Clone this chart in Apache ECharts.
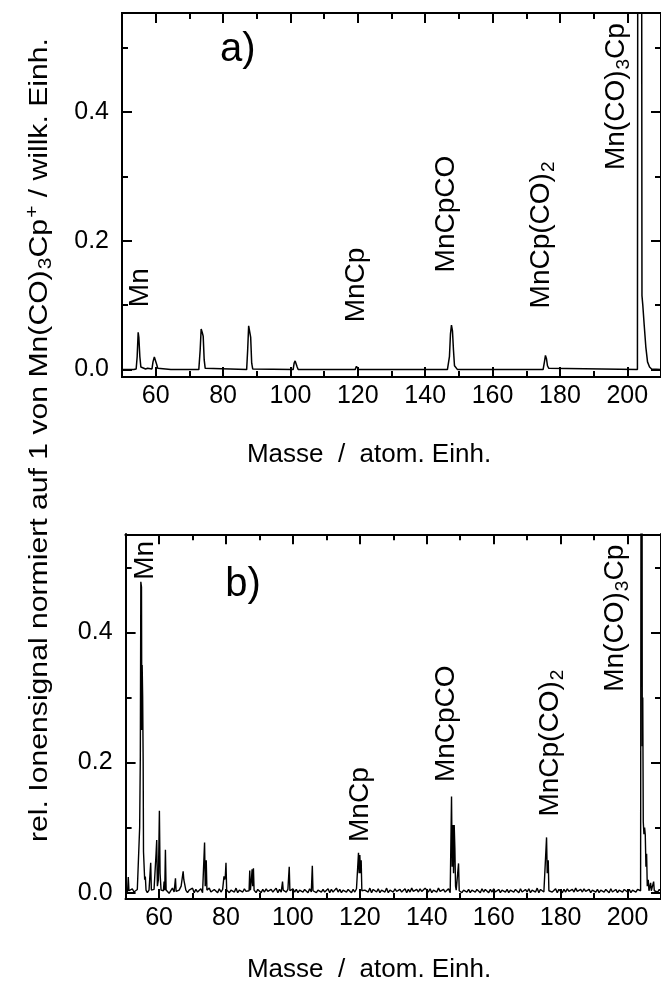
<!DOCTYPE html>
<html>
<head>
<meta charset="utf-8">
<script src="https://cdn.jsdelivr.net/npm/echarts@6/dist/echarts.min.js"></script>
<style>html,body{margin:0;padding:0;background:#fff;}#c{width:661px;height:989px;}</style>
</head>
<body>
<div id="c"></div>
<script>
// ---------- DATA ----------
// Panel a) : mass (atomic units) and normalised signal
const massA = [50,53.5,54.2,54.5,54.8,55.0,55.3,55.6,56.0,57.0,57.3,57.6,58.0,58.9,59.2,59.6,59.9,60.3,60.6,61.0,64.5,65.0,65.5,72.8,73.2,73.5,73.8,74.1,74.4,74.7,87.0,87.3,87.6,87.9,88.2,88.5,88.8,100.8,101.1,101.4,101.7,102.0,102.3,119.2,119.6,120.0,120.3,146.6,147.2,147.5,147.8,148.1,148.4,148.7,149.2,149.6,175.0,175.4,175.7,176.0,176.3,176.7,177.2,203.0,203.1,203.15,204.2,204.35,204.6,205.0,205.5,206.0,206.6,207.2,210];
const signalA = [0,0,0.001,0.02,0.058,0.05,0.02,0.004,0.001,0.001,0.003,0.002,0.001,0.001,0.012,0.0196,0.018,0.008,0.002,0.001,0,0.003,0,0,0.03,0.063,0.058,0.052,0.015,0.002,0,0.03,0.068,0.066,0.05,0.01,0.001,0,0.01,0.0135,0.013,0.004,0,0,0.005,0.0045,0,0,0.02,0.055,0.069,0.06,0.03,0.006,0.003,0,0,0.012,0.022,0.017,0.006,0.002,0,0,0.002,1.0,1.0,0.115,0.1,0.07,0.035,0.012,0.004,0.001,0];

// Panel b) : noisy baseline (every 0.5 mass units starting at 50) and peak groups
const noiseStartB = 50, noiseStepB = 0.5;
const noiseB = [
0.002,0.005,0.000,0.004,0.006,0.001,-0.001,0.005,0.003,0.000,0.005,0.001,0.006,0.000,0.004,0.007,0.001,0.005,0.000,0.004,
0.005,0.001,0.006,0.000,0.004,0.005,-0.001,0.003,0.007,0.001,0.005,0.000,0.004,0.006,0.001,0.005,0.007,0.000,0.004,0.001,
0.007,0.000,0.005,0.001,0.004,0.006,0.000,0.005,0.001,0.004,0.007,0.001,-0.001,0.005,0.003,0.000,0.006,0.001,0.005,0.002,
0.001,0.006,0.000,0.004,0.005,0.001,0.007,0.000,0.004,0.005,0.001,0.006,0.002,0.000,0.005,0.001,0.004,0.006,0.000,0.005,
0.003,0.000,0.005,0.001,0.006,0.002,-0.001,0.005,0.001,0.004,0.007,0.000,0.005,0.001,0.004,0.006,0.001,0.005,0.000,0.004,
0.006,0.001,0.005,0.000,0.004,0.007,0.001,0.005,0.002,0.000,0.006,0.001,0.004,0.005,0.000,0.004,0.006,0.001,0.005,0.001,
0.004,0.006,0.000,0.005,0.001,0.004,0.007,0.001,0.005,0.000,0.004,0.006,0.001,0.005,0.002,0.000,0.005,0.001,0.006,0.002,
0.001,0.005,0.000,0.004,0.006,0.001,0.007,0.000,0.005,0.002,0.001,0.006,0.000,0.004,0.005,0.001,0.007,0.000,0.004,0.005,
0.001,0.006,0.002,0.000,0.005,0.001,0.004,0.006,0.000,0.005,0.001,0.007,0.002,0.000,0.005,0.001,0.006,0.002,0.000,0.007,
0.005,0.001,0.006,0.000,0.004,0.005,0.001,0.007,0.002,0.000,0.005,0.001,0.004,0.006,0.000,0.005,0.001,0.006,0.002,0.001,
0.005,0.000,0.004,0.006,0.001,0.005,0.000,0.004,0.007,0.001,0.005,0.002,0.000,0.006,0.001,0.005,0.002,0.000,0.005,0.001,
0.006,0.001,0.004,0.005,0.000,0.004,0.006,0.001,0.005,0.000,0.004,0.007,0.001,0.005,0.002,0.000,0.006,0.001,0.004,0.005,
0.001,0.006,0.000,0.004,0.005,0.001,0.007,0.000,0.005,0.002,0.001,0.006,0.002,0.000,0.005,0.001,0.004,0.006,0.000,0.005,
0.002,0.000,0.005,0.001,0.006,0.002,0.000,0.005,0.001,0.007,0.002,0.000,0.005,0.001,0.006,0.002,0.001,0.005,0.000,0.004,
0.006,0.001,0.005,0.000,0.004,0.007,0.001,0.005,0.002,0.000,0.006,0.001,0.004,0.005,0.000,0.004,0.007,0.001,0.005,0.002,
0.001,0.005,0.000,0.004,0.006,0.001,0.005,0.002,0.000,0.005,0.001,0.006,0.002,0.000,0.005,0.001,0.004,0.006,0.001,0.005,0.002
];
const peaksB = [
  [[50.6,0.002],[50.8,0.024],[51.0,0.003]],
  [[53.9,0.003],[54.2,0.1],[54.4,0.21],[54.55,0.478],[54.75,0.47],[54.85,0.25],[54.95,0.35],[55.1,0.3],[55.25,0.2],[55.35,0.063],[55.5,0.06],[55.7,0.02],[55.9,0.025],[56.1,0.004]],
  [[57.3,0.003],[57.5,0.046],[57.7,0.004]],
  [[58.8,0.003],[59.1,0.06],[59.3,0.081],[59.5,0.01],[59.8,0.02],[60.1,0.126],[60.3,0.03],[60.6,0.004]],
  [[61.3,0.003],[61.5,0.017],[61.7,0.004],[61.9,0.066],[62.1,0.004]],
  [[64.7,0.002],[64.9,0.022],[65.1,0.002]],
  [[66.3,0.003],[66.6,0.01],[66.9,0.012],[67.2,0.033],[67.4,0.02],[67.7,0.012],[68.0,0.004]],
  [[73.4,0.003],[73.6,0.077],[73.8,0.01],[74.1,0.05],[74.3,0.004]],
  [[79.2,0.004],[79.4,0.025],[79.6,0.02],[79.8,0.025],[80.0,0.046],[80.2,0.004]],
  [[86.9,0.003],[87.1,0.034],[87.3,0.004],[87.6,0.02],[87.8,0.036],[88.0,0.01],[88.2,0.0375],[88.4,0.004]],
  [[96.7,0.003],[96.9,0.017],[97.1,0.004]],
  [[98.7,0.002],[98.9,0.04],[99.1,0.003]],
  [[105.6,0.003],[105.8,0.0415],[106.0,0.003]],
  [[119.3,0.003],[119.6,0.0615],[119.8,0.03],[120.0,0.058],[120.2,0.03],[120.4,0.05],[120.6,0.003]],
  [[147.1,0.003],[147.4,0.148],[147.6,0.04],[147.8,0.104],[148.0,0.03],[148.2,0.104],[148.4,0.068],[148.6,0.01],[148.8,0.004]],
  [[149.3,0.003],[149.5,0.045],[149.7,0.003]],
  [[175.5,0.003],[175.8,0.085],[176.0,0.03],[176.3,0.05],[176.5,0.003]],
  [[203.9,0.003],[204.1,1.0],[204.2,0.5],[204.3,1.0],[204.4,0.225],[204.55,0.3],[204.7,0.109],[204.9,0.09],[205.1,0.1],[205.3,0.089],[205.5,0.04],[205.7,0.06],[205.9,0.01],[206.2,0.02],[206.4,0.003]],
  [[206.9,0.015],[207.1,0.003]],
  [[207.8,0.017],[208.0,0.003]]
];

// Axis ticks / labels
const xMajorTicks = [60,80,100,120,140,160,180,200];
const xMinorTicks = [50,70,90,110,130,150,170,190,210];
const yMajorTicks = [0.0,0.2,0.4];
const yMinorTicks = [0.1,0.3,0.5];

// Annotations: [text, mass, signal]
const labelsA = [['Mn',55.35,0.097],['MnCp',119.5,0.0735],['MnCpCO',146.4,0.151],['MnCp(CO){sub|2}',174.6,0.095],['Mn(CO){sub|3}Cp',196.8,0.31]];
const labelsB = [['Mn',55.75,0.481],['MnCp',120.0,0.078],['MnCpCO',145.8,0.17],['MnCp(CO){sub|2}',177.0,0.117],['Mn(CO){sub|3}Cp',196.4,0.309]];
const tagA = ['a)',84.4,0.496];
const tagB = ['b)',85.1,0.473];

const xTitle = 'Masse  /  atom. Einh.';
const yTitle = 'rel. Ionensignal normiert auf 1 von Mn(CO){sub|3}Cp{sup|+} / willk. Einh.';

// ---------- BUILD ----------
const FONT = 'Liberation Sans, Arial, sans-serif';
const seriesA = massA.map((m,i)=>[m, signalA[i]]);
const ranges = peaksB.map(g=>[g[0][0], g[g.length-1][0]]);
const ptsB = [];
noiseB.forEach((v,i)=>{
  const m = noiseStartB + i*noiseStepB;
  if (!ranges.some(r=>m>=r[0]-0.05 && m<=r[1]+0.05)) ptsB.push([m,v]);
});
peaksB.forEach(g=>g.forEach(p=>ptsB.push(p)));
ptsB.sort((a,b)=>a[0]-b[0]);

const blk = '#000';
function xAxes(g){
  const base = {type:'value', gridIndex:g, min:50, max:210, splitLine:{show:false},
    axisLine:{show:true, onZero:false, lineStyle:{color:blk,width:2}}, axisLabel:{show:false}};
  const tick = (vals,len)=>({show:true, inside:true, length:len, customValues:vals, lineStyle:{color:blk,width:2}});
  return [
    Object.assign({}, base, {position:'bottom', axisTick:tick(xMajorTicks,10),
      axisLabel:{show:true, customValues:xMajorTicks, color:blk, fontSize:25, fontFamily:FONT, margin:7}}),
    Object.assign({}, base, {position:'bottom', axisTick:tick(xMinorTicks,6)}),
    Object.assign({}, base, {position:'top', axisTick:tick(xMajorTicks,10)}),
    Object.assign({}, base, {position:'top', axisTick:tick(xMinorTicks,6)})
  ];
}
function yAxes(g,min,max){
  const base = {type:'value', gridIndex:g, min:min, max:max, splitLine:{show:false},
    axisLine:{show:true, onZero:false, lineStyle:{color:blk,width:2}}, axisLabel:{show:false}};
  const tick = (vals,len)=>({show:true, inside:true, length:len, customValues:vals, lineStyle:{color:blk,width:2}});
  return [
    Object.assign({}, base, {position:'left', axisTick:tick(yMajorTicks,10),
      axisLabel:{show:true, customValues:yMajorTicks, color:blk, fontSize:25, fontFamily:FONT, margin:13,
        formatter:v=>Number(v).toFixed(1)}}),
    Object.assign({}, base, {position:'left', axisTick:tick(yMinorTicks,6)}),
    Object.assign({}, base, {position:'right', axisTick:tick(yMajorTicks,10)}),
    Object.assign({}, base, {position:'right', axisTick:tick(yMinorTicks,6)})
  ];
}

const chart = echarts.init(document.getElementById('c'), null, {renderer:'canvas'});
chart.setOption({
  animation:false,
  backgroundColor:'#fff',
  grid:[
    {left:122, top:13, width:541, height:364, containLabel:false},
    {left:125.6, top:534.3, width:540, height:364.7, containLabel:false}
  ],
  xAxis: xAxes(0).concat(xAxes(1)),
  yAxis: yAxes(0,-0.0115,0.554).concat(yAxes(1,-0.0097,0.551)),
  series:[
    {type:'line', xAxisIndex:0, yAxisIndex:0, data:seriesA, showSymbol:false, symbol:'none',
      lineStyle:{color:blk,width:1.5}, clip:true},
    {type:'line', xAxisIndex:4, yAxisIndex:4, data:ptsB, showSymbol:false, symbol:'none',
      lineStyle:{color:blk,width:1.4}, clip:true}
  ]
});

const richLab = {
  sub:{fontSize:19, fontFamily:FONT, verticalAlign:'bottom', padding:[15,0,0,1], fill:blk, color:blk},
  sup:{fontSize:19, fontFamily:FONT, verticalAlign:'top', padding:[0,0,15,1], fill:blk, color:blk}
};
const richTitle = {
  sub:{fontSize:18, fontFamily:FONT, verticalAlign:'bottom', padding:[13,0,0,1], fill:blk, color:blk},
  sup:{fontSize:18, fontFamily:FONT, verticalAlign:'top', padding:[0,0,13,1], fill:blk, color:blk}
};
const gfx = [];
function addLabels(list, g){
  list.forEach(l=>{
    const p = chart.convertToPixel({gridIndex:g}, [l[1], l[2]]);
    gfx.push({type:'text', x:p[0], y:p[1], rotation:Math.PI/2, z:10,
      style:{text:l[0], font:'28px '+FONT, fill:blk, textAlign:'left', textVerticalAlign:'middle', rich:richLab}});
  });
}
addLabels(labelsA,0);
addLabels(labelsB,1);
[[tagA,0],[tagB,1]].forEach(([t,g])=>{
  const p = chart.convertToPixel({gridIndex:g}, [t[1], t[2]]);
  gfx.push({type:'text', x:p[0], y:p[1], z:10,
    style:{text:t[0], font:'40px '+FONT, fill:blk, textAlign:'center', textVerticalAlign:'middle'}});
});
gfx.push({type:'text', x:369, y:455, style:{text:xTitle, font:'26px '+FONT, fill:blk, textAlign:'center', textVerticalAlign:'middle'}});
gfx.push({type:'text', x:369, y:970, style:{text:xTitle, font:'26px '+FONT, fill:blk, textAlign:'center', textVerticalAlign:'middle'}});
gfx.push({type:'text', x:40, y:440, rotation:Math.PI/2, scaleX:1.16,
  style:{text:yTitle, font:'26px '+FONT, fill:blk, textAlign:'center', textVerticalAlign:'middle', rich:richTitle}});
chart.setOption({graphic:gfx});
</script>
</body>
</html>
